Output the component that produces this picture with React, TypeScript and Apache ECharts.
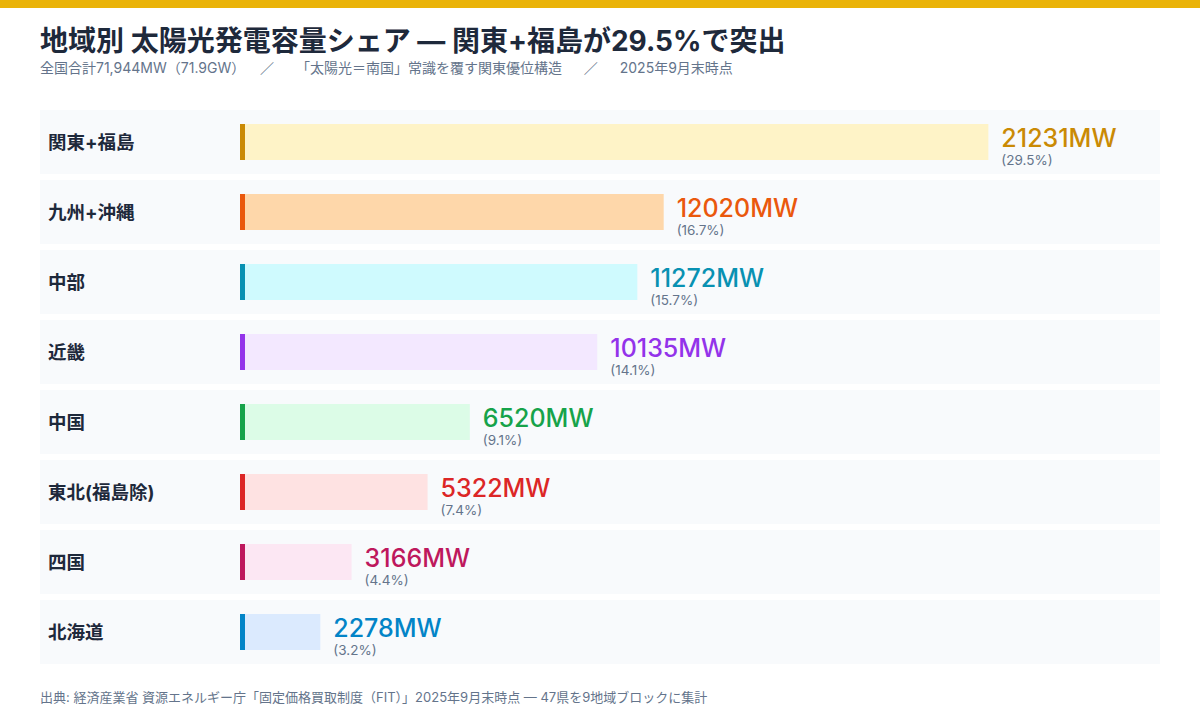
import React, { useEffect, useRef } from "react";
import * as echarts from "echarts";

const regions = ["関東+福島", "九州+沖縄", "中部", "近畿", "中国", "東北(福島除)", "四国", "北海道"];
const capacityMW = [21231, 12020, 11272, 10135, 6520, 5322, 3166, 2278];
const sharePct = ["29.5", "16.7", "15.7", "14.1", "9.1", "7.4", "4.4", "3.2"];
const accentColors = ["#ca8a04", "#ea580c", "#0891b2", "#9333ea", "#16a34a", "#dc2626", "#be185d", "#0284c7"];
const fillColors = ["#fef3c7", "#fed7aa", "#cffafe", "#f3e8ff", "#dcfce7", "#fee2e2", "#fce7f3", "#dbeafe"];

const TITLE = "地域別 太陽光発電容量シェア — 関東+福島が29.5%で突出";
const SUBTITLE = "全国合計71,944MW（71.9GW）　  ／　  「太陽光＝南国」常識を覆す関東優位構造　  ／　  2025年9月末時点";
const FOOTER = "出典: 経済産業省 資源エネルギー庁「固定価格買取制度（FIT）」2025年9月末時点 — 47県を9地域ブロックに集計";

const FONT = "Inter, 'Noto Sans CJK JP', sans-serif";

export default function App() {
  const ref = useRef<HTMLDivElement>(null);
  useEffect(() => {
    if (!ref.current) return;
    const chart = echarts.init(ref.current, null, { renderer: "svg" });
    const rich: any = {};
    accentColors.forEach((c, i) => {
      rich["v" + i] = { fontSize: 25, fontWeight: 500, color: c, lineHeight: 26, fontFamily: FONT };
    });
    rich.p = { fontSize: 13.5, color: "#64748b", lineHeight: 19, fontFamily: FONT };

    const option: any = {
      animation: false,
      backgroundColor: "#ffffff",
      textStyle: { fontFamily: FONT },
      grid: { left: 240, right: 40, top: 107, height: 560 },
      xAxis: {
        type: "value",
        min: 0,
        max: 26100,
        show: false,
      },
      yAxis: {
        type: "category",
        data: regions,
        inverse: true,
        z: 10,
        axisLine: { show: false },
        axisTick: { show: false },
        splitLine: { show: false },
        axisLabel: {
          align: "left",
          margin: 192,
          fontSize: 18.5,
          fontWeight: "bold",
          color: "#1e293b",
          fontFamily: FONT,
        },
      },
      series: [
        {
          type: "custom",
          z: 1,
          silent: true,
          data: capacityMW.map((v, i) => [v, i]),
          encode: { x: 0, y: 1 },
          renderItem: (params: any, api: any) => {
            const c = api.coord([0, api.value(1)]);
            const band = api.size([0, 1])[1];
            const cs = params.coordSys;
            const h = band - 6;
            return {
              type: "rect",
              shape: { x: cs.x - 200, y: c[1] - h / 2, width: cs.width + 200, height: h },
              style: { fill: "#f8fafc" },
            };
          },
        },
        {
          type: "bar",
          z: 2,
          barWidth: 36,
          data: capacityMW.map((v, i) => ({
            value: v,
            itemStyle: { color: fillColors[i] },
            label: {
              show: true,
              position: "right",
              distance: 13,
              offset: [0, 5],
              formatter: `{v${i}|${v}MW}\n{p|(${sharePct[i]}%)}`,
              rich,
            },
          })),
        },
        {
          type: "custom",
          z: 3,
          silent: true,
          data: capacityMW.map((v, i) => [v, i]),
          encode: { x: 0, y: 1 },
          renderItem: (params: any, api: any) => {
            const c = api.coord([0, api.value(1)]);
            const i = params.dataIndex;
            return {
              type: "rect",
              shape: { x: c[0], y: c[1] - 18, width: 5, height: 36 },
              style: { fill: accentColors[i] },
            };
          },
        },
      ],
      graphic: [
        { type: "rect", left: 0, top: 0, shape: { width: 1200, height: 8 }, style: { fill: "#eab308" } },
        {
          type: "text",
          left: 40,
          top: 27,
          style: { text: TITLE, fill: "#1e293b", font: `bold 28px ${FONT}` },
        },
        {
          type: "text",
          left: 40,
          top: 60,
          style: { text: SUBTITLE, fill: "#64748b", font: `14px ${FONT}` },
        },
        {
          type: "text",
          left: 40,
          top: 690,
          style: { text: FOOTER, fill: "#64748b", font: `13px ${FONT}` },
        },
      ],
    };
    chart.setOption(option);
    return () => chart.dispose();
  }, []);
  return (
    <div
      ref={ref}
      style={{ position: "fixed", left: 0, top: 0, width: 1200, height: 720, background: "#fff" }}
    />
  );
}
